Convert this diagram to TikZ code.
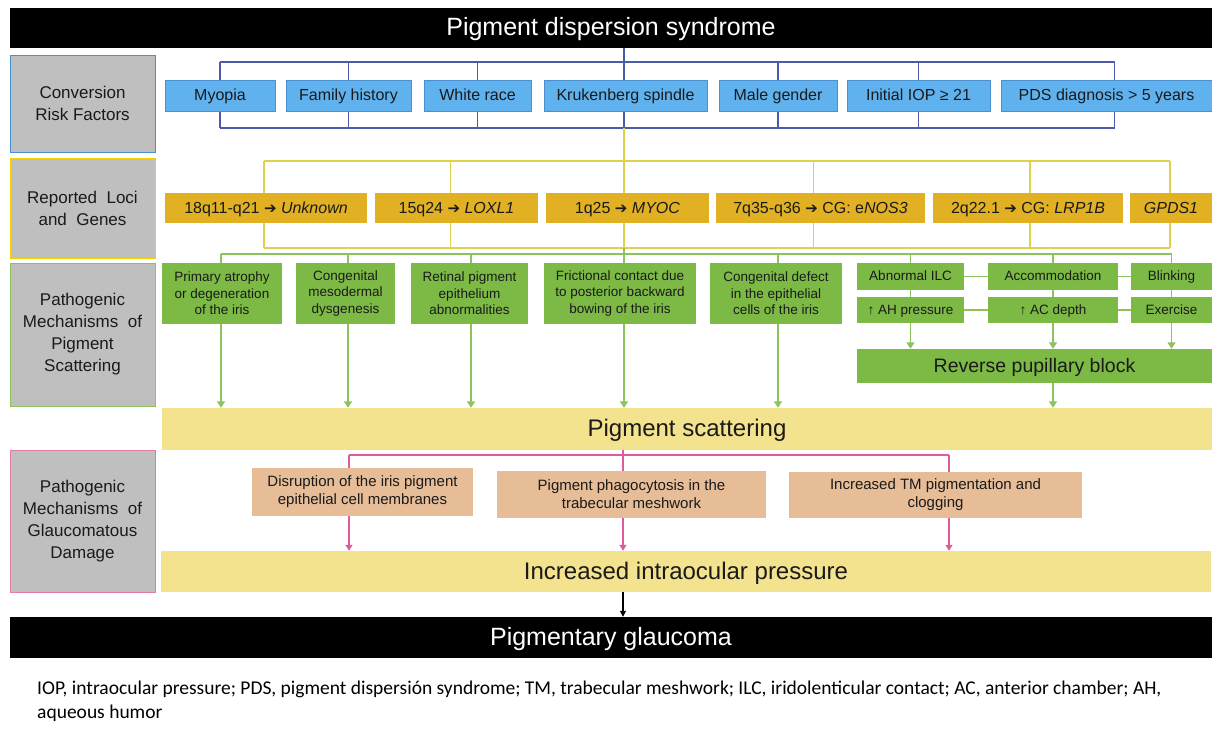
\documentclass[tikz,border=0pt]{standalone}
\usepackage{fontspec}
\setmainfont{Liberation Sans}
\newfontfamily\footfont{Carlito}
\newfontfamily\dejavu{DejaVu Sans}
\newcommand{\rarr}{{\dejavu\fontsize{15}{15}\selectfont ➔}}
\usetikzlibrary{arrows.meta}
\pgfdeclarelayer{bg}
\pgfsetlayers{bg,main}
\definecolor{blueF}{HTML}{60B2EE}
\definecolor{blueB}{HTML}{4A8FD0}
\definecolor{goldF}{HTML}{E2B123}
\definecolor{greenF}{HTML}{7CBA45}
\definecolor{lyel}{HTML}{F3E28E}
\definecolor{tanF}{HTML}{E7BD98}
\definecolor{grayF}{HTML}{BFBFBF}
\definecolor{lineBlue}{HTML}{4A5CA8}
\definecolor{lineYel}{HTML}{DCD24C}
\definecolor{lineGreen}{HTML}{8CC35C}
\definecolor{linePink}{HTML}{E05A9E}
\definecolor{bdYel}{HTML}{F5D400}
\definecolor{bdPink}{HTML}{E27BA8}
\definecolor{txt}{HTML}{1A1A1A}
\begin{document}
\begin{tikzpicture}[x=1pt,y=-1pt,
  box/.style={rectangle,inner sep=0pt,align=center,text=txt},
  titlebar/.style={box,fill=black,text=white,font=\fontsize{25}{28}\selectfont,text height=21pt,text depth=5.3pt},
  graylabel/.style={box,fill=grayF,line width=1pt,font=\fontsize{17}{22}\selectfont},
  riskbox/.style={box,fill=blueF,draw=blueB,line width=0.6pt,font=\fontsize{16}{19}\selectfont,text height=13.5pt,text depth=3.4pt},
  locusbox/.style={box,fill=goldF,font=\fontsize{16}{19}\selectfont,text height=13.5pt,text depth=3.4pt},
  mechbox/.style={box,fill=greenF,font=\fontsize{13.5}{16.5}\selectfont},
  mechone/.style={mechbox,text height=11.5pt,text depth=2.9pt},
  barbox/.style={box,fill=lyel,font=\fontsize{24}{28}\selectfont,text height=20.3pt,text depth=5pt},
  damagebox/.style={box,fill=tanF,font=\fontsize{15}{18}\selectfont},
  bline/.style={draw=lineBlue,line width=1.3pt},
  yline/.style={draw=lineYel,line width=1.3pt},
  gline/.style={draw=lineGreen,line width=1.5pt},
  gar/.style={gline,-{Triangle[width=8pt,length=6.5pt]}},
  pline/.style={draw=linePink,line width=1.3pt},
  par/.style={pline,-{Triangle[width=7pt,length=6pt]}},
  kar/.style={draw=black,line width=1.2pt,-{Triangle[width=6pt,length=6pt]}}
]
\useasboundingbox (0,0) rectangle (1212,728);
\begin{pgfonlayer}{bg}
\fill[white] (0,0) rectangle (1212,728);
\end{pgfonlayer}

% title
\node[titlebar,minimum width=1202,minimum height=40] (title) at (611,28) {Pigment dispersion syndrome};

% left labels
\node[graylabel,draw=blueB,minimum width=145,minimum height=97] (g1) at (82.5,103.5) {Conversion\\Risk Factors};
\node[graylabel,draw=bdYel,minimum width=145,minimum height=100] (g2) at (82.5,208) {Reported~~Loci\\and~~Genes};
\node[graylabel,draw=lineGreen,minimum width=145,minimum height=143] (g3) at (82.5,334.5) {Pathogenic\\Mechanisms~~of\\Pigment\\Scattering};
\node[graylabel,draw=bdPink,minimum width=145,minimum height=142] (g4) at (82.5,521) {Pathogenic\\Mechanisms~~of\\Glaucomatous\\Damage};

% risk factors
\node[riskbox,minimum width=110,minimum height=31] (myopia) at (220,95.5) {Myopia};
\node[riskbox,minimum width=125,minimum height=31] (family) at (348.5,95.5) {Family history};
\node[riskbox,minimum width=107,minimum height=31] (white) at (477.5,95.5) {White race};
\node[riskbox,minimum width=163,minimum height=31] (kruk) at (625.5,95.5) {Krukenberg spindle};
\node[riskbox,minimum width=118,minimum height=31] (male) at (778,95.5) {Male gender};
\node[riskbox,minimum width=143,minimum height=31] (iopr) at (918.5,95.5) {Initial IOP ≥ 21};
\node[riskbox,minimum width=211,minimum height=31] (pds) at (1106.5,95.5) {PDS diagnosis > 5 years};

% loci
\node[locusbox,minimum width=202,minimum height=30] (l1) at (266,208) {18q11-q21 \rarr{} \textit{Unknown}};
\node[locusbox,minimum width=163,minimum height=30] (l2) at (456.5,208) {15q24 \rarr{} \textit{LOXL1}};
\node[locusbox,minimum width=163,minimum height=30] (l3) at (627.5,208) {1q25 \rarr{} \textit{MYOC}};
\node[locusbox,minimum width=209,minimum height=30] (l4) at (820.5,208) {7q35-q36 \rarr{} CG: e\textit{NOS3}};
\node[locusbox,minimum width=190,minimum height=30] (l5) at (1028,208) {2q22.1 \rarr{} CG: \textit{LRP1B}};
\node[locusbox,minimum width=82,minimum height=30] (l6) at (1171,208) {\textit{GPDS1}};

% mechanisms
\node[mechbox,minimum width=120,minimum height=61] (m1) at (222,293.5) {Primary atrophy\\or degeneration\\of the iris};
\node[mechbox,minimum width=99,minimum height=61] (m2) at (345.5,293.5) {Congenital\\mesodermal\\dysgenesis};
\node[mechbox,minimum width=117,minimum height=61] (m3) at (469.5,293.5) {Retinal pigment\\epithelium\\abnormalities};
\node[mechbox,minimum width=152,minimum height=61] (m4) at (620,293.5) {Frictional contact due\\to posterior backward\\bowing of the iris};
\node[mechbox,minimum width=132,minimum height=61] (m5) at (776,293.5) {Congenital defect\\in the epithelial\\cells of the iris};
\node[mechone,minimum width=107,minimum height=27] (ilc) at (910.5,276.5) {Abnormal ILC};
\node[mechone,minimum width=107,minimum height=26] (ahp) at (910.5,310) {↑ AH pressure};
\node[mechone,minimum width=130,minimum height=27] (acc) at (1053,276.5) {Accommodation};
\node[mechone,minimum width=130,minimum height=26] (acd) at (1053,310) {↑ AC depth};
\node[mechone,minimum width=81,minimum height=27] (blink) at (1171.5,276.5) {Blinking};
\node[mechone,minimum width=81,minimum height=26] (exer) at (1171.5,310) {Exercise};
\node[mechbox,minimum width=355,minimum height=34,font=\fontsize{19.5}{22}\selectfont,text height=16.5pt,text depth=4.2pt] (rpb) at (1034.5,366) {Reverse pupillary block};

% pigment scattering
\node[barbox,minimum width=1050,minimum height=42] (scat) at (687,429) {Pigment scattering};

% damage
\node[damagebox,minimum width=221,minimum height=48] (t1) at (362.5,492) {Disruption of the iris pigment\\epithelial cell membranes};
\node[damagebox,minimum width=269,minimum height=47] (t2) at (631.5,494.5) {Pigment phagocytosis in the\\trabecular meshwork};
\node[damagebox,minimum width=293,minimum height=46] (t3) at (935.5,495) {Increased TM pigmentation and\\clogging};

\node[barbox,minimum width=1050,minimum height=41] (iop) at (686,571.5) {Increased intraocular pressure};
\node[titlebar,minimum width=1202,minimum height=41] (glau) at (611,637.5) {Pigmentary glaucoma};

% footer
\node[anchor=north west,inner sep=0pt,align=left,text=black,font=\footfont\fontsize{19.5}{24}\selectfont] (foot) at (37,681)
 {IOP, intraocular pressure; PDS, pigment dispersión syndrome; TM, trabecular meshwork; ILC, iridolenticular contact; AC, anterior chamber; AH,\\aqueous humor};

% connectors
\coordinate (rt) at (624,62);
\coordinate (rb) at (624,128);
\coordinate (yt) at (624,161);
\coordinate (yb) at (624,248);
\coordinate (gt) at (624,254);
\coordinate (pt) at (623,455);
\begin{pgfonlayer}{bg}
% blue bracket
\path[bline] (title.south -| rt) -- (rb);
\path[bline] (myopia.north |- rt) -- ([xshift=8]pds.north |- rt);
\path[bline] (myopia.south |- rb) -- ([xshift=8]pds.south |- rb);
\foreach \n in {myopia,family,white,male,iopr}{
  \path[bline] (\n.north |- rt) -- (\n.north);
  \path[bline] (\n.south) -- (\n.south |- rb);
}
\path[bline] ([xshift=8]pds.north |- rt) -- ([xshift=8]pds.north);
\path[bline] ([xshift=8]pds.south) -- ([xshift=8]pds.south |- rb);
% yellow bracket
\path[yline] (rb) -- (yb);
\path[yline] ([xshift=-2]l1.north |- yt) -- ([xshift=-1]l6.north |- yt);
\path[yline] ([xshift=-2]l1.south |- yb) -- ([xshift=-1]l6.south |- yb);
\path[yline] ([xshift=-2]l1.north |- yt) -- ([xshift=-2]l1.north);
\path[yline] ([xshift=-2]l1.south) -- ([xshift=-2]l1.south |- yb);
\path[yline] ([xshift=-6]l2.north |- yt) -- ([xshift=-6]l2.north);
\path[yline] ([xshift=-6]l2.south) -- ([xshift=-6]l2.south |- yb);
\path[yline] ([xshift=-7]l4.north |- yt) -- ([xshift=-7]l4.north);
\path[yline] ([xshift=-7]l4.south) -- ([xshift=-7]l4.south |- yb);
\path[yline] ([xshift=2]l5.north |- yt) -- ([xshift=2]l5.north);
\path[yline] ([xshift=2]l5.south) -- ([xshift=2]l5.south |- yb);
\path[yline] ([xshift=-1]l6.north |- yt) -- ([xshift=-1]l6.north);
\path[yline] ([xshift=-1]l6.south) -- ([xshift=-1]l6.south |- yb);
% green
\path[gline] (yb) -- (gt);
\path[gline] ([xshift=-1]m1.north |- gt) -- (blink.north |- gt);
\foreach \n/\s in {m1/-1,m2/2.5,m3/1.5,m5/2,ilc/0,acc/0,blink/0}{
  \path[gline] ([xshift=\s]\n.north |- gt) -- ([xshift=\s]\n.north);
}
\path[gline] (gt) -- (m4.north -| gt);
\foreach \n/\s in {m1/-1,m2/2.5,m3/1.5,m5/2}{
  \path[gar] ([xshift=\s]\n.south) -- ([xshift=\s]\n.south |- scat.north);
}
\path[gar] (m4.south -| gt) -- (scat.north -| gt);
\path[gline] (ilc.east) -- (acc.west);
\path[gline] (acc.east) -- (blink.west);
\path[gline] (ahp.east) -- (acd.west);
\path[gline] (acd.east) -- (exer.west);
\path[gline] (ilc.south) -- (ahp.north);
\path[gline] (acc.south) -- (acd.north);
\path[gline] (blink.south) -- (exer.north);
\path[gar] (ahp.south) -- (ahp.south |- rpb.north);
\path[gar] (acd.south) -- (acd.south |- rpb.north);
\path[gar] (exer.south) -- (exer.south |- rpb.north);
\path[gar] (acd.south |- rpb.south) -- (acd.south |- scat.north);
% pink
\path[pline] (scat.south -| pt) -- (pt);
\path[pline] ([xshift=-13.5]t1.north |- pt) -- ([xshift=13.5]t3.north |- pt);
\path[pline] ([xshift=-13.5]t1.north |- pt) -- ([xshift=-13.5]t1.north);
\path[pline] (pt) -- (t2.north -| pt);
\path[pline] ([xshift=13.5]t3.north |- pt) -- ([xshift=13.5]t3.north);
\path[par] ([xshift=-13.5]t1.south) -- ([xshift=-13.5]t1.south |- iop.north);
\path[par] (t2.south -| pt) -- (iop.north -| pt);
\path[par] ([xshift=13.5]t3.south) -- ([xshift=13.5]t3.south |- iop.north);
% black
\path[kar] (iop.south -| pt) -- (glau.north -| pt);
\end{pgfonlayer}
\end{tikzpicture}
\end{document}
